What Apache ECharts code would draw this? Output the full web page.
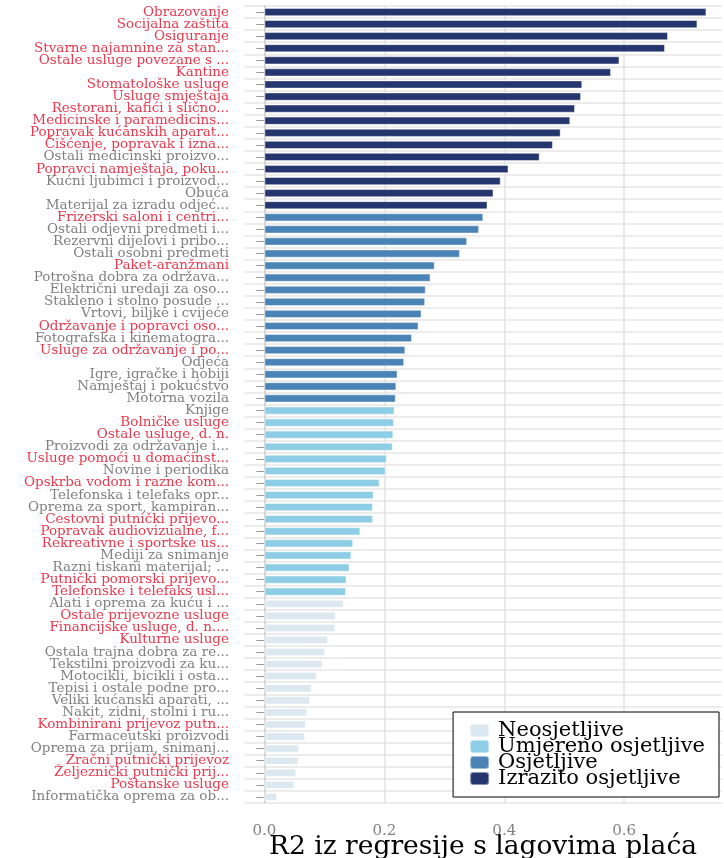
<!DOCTYPE html>
<html>
<head>
<meta charset="utf-8">
<script src="https://cdn.jsdelivr.net/npm/echarts@6/dist/echarts.min.js"></script>
<style>
  html, body { margin: 0; padding: 0; background: #fff; }
</style>
</head>
<body>
<div id="main" style="width: 724px;height: 858px;"></div>
<script>
  // kategorije, odozgo prema dolje
  let categories = [
    'Obrazovanje', 'Socijalna zaštita', 'Osiguranje', 'Stvarne najamnine za stan...',
    'Ostale usluge povezane s ...', 'Kantine', 'Stomatološke usluge', 'Usluge smještaja',
    'Restorani, kafići i slično...', 'Medicinske i paramedicins...', 'Popravak kućanskih aparat...',
    'Čišćenje, popravak i izna...', 'Ostali medicinski proizvo...', 'Popravci namještaja, poku...',
    'Kućni ljubimci i proizvod...', 'Obuća', 'Materijal za izradu odjeć...',
    'Frizerski saloni i centri...', 'Ostali odjevni predmeti i...', 'Rezervni dijelovi i pribo...',
    'Ostali osobni predmeti', 'Paket-aranžmani', 'Potrošna dobra za održava...',
    'Električni uredaji za oso...', 'Stakleno i stolno posude ...', 'Vrtovi, biljke i cvijeće',
    'Održavanje i popravci oso...', 'Fotografska i kinematogra...', 'Usluge za održavanje i po...',
    'Odjeća', 'Igre, igračke i hobiji', 'Namještaj i pokućstvo', 'Motorna vozila',
    'Knjige', 'Bolničke usluge', 'Ostale usluge, d. n.', 'Proizvodi za održavanje i...',
    'Usluge pomoći u domaćinst...', 'Novine i periodika', 'Opskrba vodom i razne kom...',
    'Telefonska i telefaks opr...', 'Oprema za sport, kampiran...', 'Cestovni putnički prijevo...',
    'Popravak audiovizualne, f...', 'Rekreativne i sportske us...', 'Mediji za snimanje',
    'Razni tiskani materijal; ...', 'Putnički pomorski prijevo...', 'Telefonske i telefaks usl...',
    'Alati i oprema za kuću i ...', 'Ostale prijevozne usluge', 'Financijske usluge, d. n....',
    'Kulturne usluge', 'Ostala trajna dobra za re...', 'Tekstilni proizvodi za ku...',
    'Motocikli, bicikli i osta...', 'Tepisi i ostale podne pro...', 'Veliki kućanski aparati, ...',
    'Nakit, zidni, stolni i ru...', 'Kombinirani prijevoz putn...', 'Farmaceutski proizvodi',
    'Oprema za prijam, snimanj...', 'Zračni putnički prijevoz', 'Željeznički putnički prij...',
    'Poštanske usluge', 'Informatička oprema za ob...'
  ]
  // R2 vrijednosti
  let values = [
    0.737, 0.722, 0.673, 0.668, 0.592, 0.578, 0.530, 0.528, 0.518, 0.510, 0.494,
    0.481, 0.459, 0.407, 0.394, 0.382, 0.372,
    0.365, 0.358, 0.338, 0.326, 0.284, 0.277, 0.269, 0.268, 0.262, 0.257, 0.246,
    0.235, 0.233, 0.222, 0.220, 0.219,
    0.217, 0.216, 0.215, 0.214, 0.204, 0.202, 0.192, 0.182, 0.181, 0.181, 0.160,
    0.148, 0.145, 0.142, 0.137, 0.136,
    0.132, 0.119, 0.118, 0.106, 0.101, 0.097, 0.087, 0.079, 0.076, 0.071, 0.069,
    0.068, 0.058, 0.057, 0.053, 0.050, 0.021
  ]
  // skupina osjetljivosti: 0 neosjetljive ... 3 izrazito osjetljive
  let groups = [
    3, 3, 3, 3, 3, 3, 3, 3, 3, 3, 3, 3, 3, 3, 3, 3, 3,
    2, 2, 2, 2, 2, 2, 2, 2, 2, 2, 2, 2, 2, 2, 2, 2,
    1, 1, 1, 1, 1, 1, 1, 1, 1, 1, 1, 1, 1, 1, 1, 1,
    0, 0, 0, 0, 0, 0, 0, 0, 0, 0, 0, 0, 0, 0, 0, 0, 0
  ]
  // 1 = usluga (crvena oznaka), 0 = proizvod (siva oznaka)
  let isService = [
    1, 1, 1, 1, 1, 1, 1, 1, 1, 1, 1, 1, 0, 1, 0, 0, 0,
    1, 0, 0, 0, 1, 0, 0, 0, 0, 1, 0, 1, 0, 0, 0, 0,
    0, 1, 1, 0, 1, 0, 1, 0, 0, 1, 1, 1, 0, 0, 1, 1,
    0, 1, 1, 1, 0, 0, 0, 0, 0, 0, 1, 0, 0, 1, 1, 1, 0
  ]
  let groupNames = ['Neosjetljive', 'Umjereno osjetljive', 'Osjetljive', 'Izrazito osjetljive']
  let groupColors = ['#dce8f0', '#8ecde6', '#4a83b6', '#25366f']
  let xTicks = [0, 0.2, 0.4, 0.6]

  let serif = 'DejaVu Serif'

  // jedna serija po skupini, ostale pozicije prazne
  let series = groupNames.map(function (name, g) {
    return {
      name: name,
      type: 'bar',
      stack: 'r2',
      barWidth: '68%',
      itemStyle: {
        color: groupColors[g],
        borderColor: 'rgba(255,255,255,0.45)',
        borderWidth: 1
      },
      data: values.map(function (v, i) { return groups[i] === g ? v : '-' })
    }
  })

  let myChart = echarts.init(document.getElementById('main'))
  myChart.setOption({
    animation: false,
    textStyle: { fontFamily: serif },
    grid: { left: 244, right: 2, top: 6, bottom: 55, containLabel: false, outerBoundsMode: 'none' },
    legend: {
      data: groupNames,
      orient: 'vertical',
      right: 5,
      bottom: 61,
      backgroundColor: '#fff',
      borderColor: '#000',
      borderWidth: 1,
      padding: [8, 14, 8, 16],
      itemWidth: 19,
      itemHeight: 13,
      itemGap: -5,
      textStyle: { fontFamily: serif, fontSize: 21, color: '#000', padding: [0, 0, 0, 4] }
    },
    xAxis: {
      type: 'value',
      min: -0.034,
      max: 0.763,
      name: 'R2 iz regresije s lagovima plaća',
      nameLocation: 'middle',
      nameGap: 31,
      nameMoveOverlap: false,
      nameTextStyle: { fontFamily: serif, fontSize: 26.5, color: '#000', verticalAlign: 'top' },
      axisLine: { show: false },
      axisTick: { show: false, customValues: xTicks },
      axisLabel: {
        customValues: xTicks,
        margin: 14,
        padding: [7, 0, 0, 0],
        color: '#808080',
        fontSize: 15,
        formatter: function (v) { return v.toFixed(1) }
      },
      splitLine: { lineStyle: { color: '#e3e3e3', width: 1.5 } }
    },
    yAxis: {
      type: 'category',
      inverse: true,
      data: categories,
      axisLine: { show: true, lineStyle: { color: '#cfcfcf', width: 1.5 } },
      axisTick: { show: true, alignWithLabel: true, length: 8, lineStyle: { color: '#999' } },
      axisLabel: {
        interval: 0,
        margin: 15,
        fontSize: 13.5,
        color: function (val, idx) { return isService[idx] ? '#e8394f' : '#808080' }
      },
      splitLine: { show: true, interval: 0, lineStyle: { color: '#e6e6e6', width: 1.5 } }
    },
    series: series
  })
</script>
</body>
</html>
